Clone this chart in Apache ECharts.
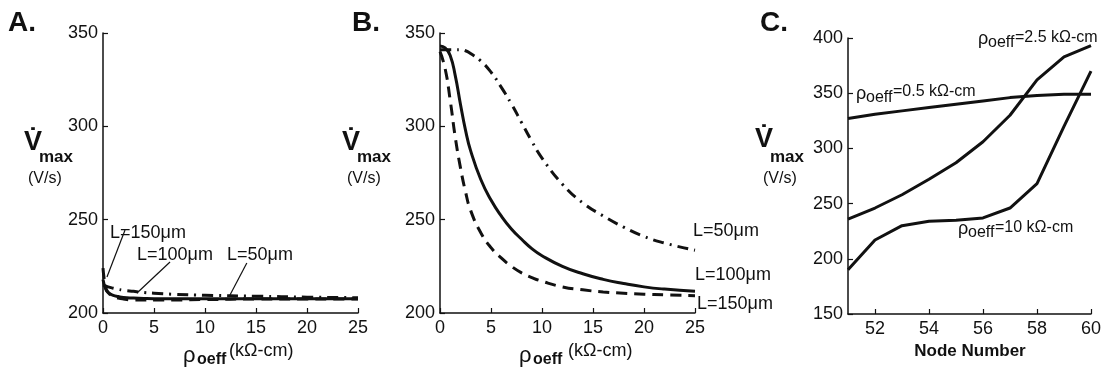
<!DOCTYPE html>
<html>
<head>
<meta charset="utf-8">
<script src="https://cdn.jsdelivr.net/npm/echarts@6/dist/echarts.min.js"></script>
<style>
html,body{margin:0;padding:0;background:#fff;}
#c{width:1105px;height:372px;}
</style>
</head>
<body>
<div id="c"></div>
<script>
// ---------- data ----------
const rhoA = [0, 0.25, 0.5, 1, 1.5, 2, 3, 4, 5, 7, 10, 15, 20, 25];
const vA_L50  = [215, 214.5, 214, 213.3, 212.7, 212.2, 211.6, 211, 210.6, 210, 209.5, 209, 208.5, 208.2];
const vA_L100 = [218, 213, 211, 209.5, 208.8, 208.3, 208, 207.8, 207.7, 207.7, 207.7, 207.7, 207.7, 207.7];
const vA_L150 = [224, 214, 211, 209, 208, 207.5, 207, 207, 207, 207, 207.2, 207.5, 207.5, 207.5];

const rhoB = [0, 0.5, 1, 1.5, 2, 2.5, 3, 4, 5, 6, 7, 8, 9, 10, 12, 14, 16, 18, 20, 22, 25];
const vB_L50  = [341, 341, 341, 341, 341, 340.5, 339, 335, 329, 321, 312, 302, 292, 283, 269, 259, 252, 246, 241, 237.5, 233.6];
const vB_L100 = [343, 342, 338, 327, 312, 298, 287, 271.5, 260.5, 252, 245, 239.5, 234.5, 230.7, 225, 221, 218, 215.8, 214, 212.8, 211.6];
const vB_L150 = [340, 331, 314, 294, 278, 265, 255, 243, 235, 229.5, 225, 221.5, 219, 217, 214, 212.4, 211.3, 210.6, 210.1, 209.7, 209.3];

const nodes = [51, 52, 53, 54, 55, 56, 57, 58, 59, 60];
const vC_05 = [327, 331, 334, 337, 340, 343, 346, 348, 349, 349];
const vC_25 = [236, 246, 258, 272, 287, 306, 330, 362, 383, 393];
const vC_10 = [190, 217, 230, 234, 235, 237, 246, 268, 320, 370];

const xTicksC = [52, 54, 56, 58, 60];

// annotation pointer segments in panel A (data coordinates)
const pointersA = [
  [[2.16, 244.5], [0.39, 219.3]],
  [[6.57, 227.3], [3.33, 210.7]],
  [[14.1, 226.8], [12.45, 209.6]]
];

// ---------- helpers ----------
const INK = '#111';
const FONT = '"Liberation Sans", Arial, sans-serif';
const pairs = (xs, ys) => xs.map((x, i) => [x, ys[i]]);
const TICKFS = 18;

function axisCommon(extra) {
  return Object.assign({
    type: 'value',
    axisLine: { show: true, onZero: false, lineStyle: { color: INK, width: 1.5 } },
    axisTick: { show: true, inside: true, length: 5, lineStyle: { color: INK, width: 1.2 } },
    axisLabel: { color: INK, fontSize: TICKFS, fontFamily: FONT },
    splitLine: { show: false }
  }, extra);
}

function line(name, xi, yi, data, type, smooth) {
  return {
    name, type: 'line', xAxisIndex: xi, yAxisIndex: yi,
    data, showSymbol: false, symbol: 'none',
    smooth: smooth ? 0.5 : false,
    lineStyle: { color: INK, width: 3, type: type, cap: 'butt' },
    silent: true
  };
}

function t(x, y, text, font, align) {
  return {
    type: 'text', x, y, silent: true,
    style: { text, font, fill: INK, align: align || 'left', verticalAlign: 'middle' }
  };
}

const DASHDOT = [11, 6, 2, 6];
const DASH = [11, 7];

const graphics = [
  t(8, 23, 'A.', 'bold 28px ' + FONT),
  t(352, 23, 'B.', 'bold 28px ' + FONT),
  t(760, 23, 'C.', 'bold 28px ' + FONT),

  // y titles
  t(24, 143, 'V\u0307', 'bold 27px ' + FONT),
  t(39, 157, 'max', 'bold 17px ' + FONT),
  t(28, 179, '(V/s)', '16px ' + FONT),

  t(342, 143, 'V\u0307', 'bold 27px ' + FONT),
  t(357, 157, 'max', 'bold 17px ' + FONT),
  t(347, 179, '(V/s)', '16px ' + FONT),

  t(755, 140, 'V\u0307', 'bold 27px ' + FONT),
  t(770, 157, 'max', 'bold 17px ' + FONT),
  t(763, 179, '(V/s)', '16px ' + FONT),

  // x titles
  t(183, 356, 'ρ', '22px ' + FONT),
  t(197, 359.5, 'oeff', 'bold 16px ' + FONT),
  t(229, 351.5, '(kΩ-cm)', '18px ' + FONT),

  t(519, 356, 'ρ', '22px ' + FONT),
  t(533, 359.5, 'oeff', 'bold 16px ' + FONT),
  t(568, 351.5, '(kΩ-cm)', '18px ' + FONT),

  t(970, 351.5, 'Node Number', 'bold 17px ' + FONT, 'center'),

  // panel A labels
  t(110, 233.5, 'L=150μm', '18px ' + FONT),
  t(137, 255, 'L=100μm', '18px ' + FONT),
  t(227, 255, 'L=50μm', '18px ' + FONT),

  // panel B labels
  t(693, 231, 'L=50μm', '18px ' + FONT),
  t(695, 275, 'L=100μm', '18px ' + FONT),
  t(697, 304.5, 'L=150μm', '18px ' + FONT),

  // panel C labels
  t(978, 39, 'ρ', '18px ' + FONT),
  t(988, 43, 'oeff', '16px ' + FONT),
  t(1015, 38, '=2.5 kΩ-cm', '16px ' + FONT),

  t(856, 94, 'ρ', '18px ' + FONT),
  t(866, 98, 'oeff', '16px ' + FONT),
  t(893, 92, '=0.5 kΩ-cm', '16px ' + FONT),

  t(958, 229, 'ρ', '18px ' + FONT),
  t(968, 233, 'oeff', '16px ' + FONT),
  t(995, 228, '=10 kΩ-cm', '16px ' + FONT)
];

const chart = echarts.init(document.getElementById('c'), null, { renderer: 'canvas' });
const seriesA150 = line('A L=150', 0, 0, pairs(rhoA, vA_L150), DASH, true);
seriesA150.markLine = {
  silent: true, symbol: 'none', animation: false,
  label: { show: false },
  lineStyle: { color: INK, width: 1.2, type: 'solid' },
  data: pointersA.map(p => [{ coord: p[0] }, { coord: p[1] }])
};

const lab = (m) => ({ color: INK, fontSize: TICKFS, fontFamily: FONT, margin: m });

chart.setOption({
  animation: false,
  backgroundColor: '#fff',
  grid: [
    { left: 103, top: 33, width: 255, height: 280 },
    { left: 440, top: 33, width: 255, height: 280 },
    { left: 848, top: 38, width: 243, height: 276 }
  ],
  xAxis: [
    axisCommon({ gridIndex: 0, min: 0, max: 25, interval: 5, axisLabel: lab(6) }),
    axisCommon({ gridIndex: 1, min: 0, max: 25, interval: 5, axisLabel: lab(6) }),
    axisCommon({ gridIndex: 2, min: 51, max: 60,
      axisTick: { show: true, inside: true, length: 5, customValues: xTicksC, lineStyle: { color: INK, width: 1.2 } },
      axisLabel: Object.assign(lab(6), { customValues: xTicksC }) })
  ],
  yAxis: [
    axisCommon({ gridIndex: 0, min: 200, max: 350, interval: 50, axisLabel: lab(5) }),
    axisCommon({ gridIndex: 1, min: 200, max: 350, interval: 50, axisLabel: lab(5) }),
    axisCommon({ gridIndex: 2, min: 150, max: 400, interval: 50, axisLabel: lab(5) })
  ],
  series: [
    line('A L=50', 0, 0, pairs(rhoA, vA_L50), DASHDOT, true),
    line('A L=100', 0, 0, pairs(rhoA, vA_L100), 'solid', true),
    seriesA150,
    line('B L=50', 1, 1, pairs(rhoB, vB_L50), DASHDOT, true),
    line('B L=100', 1, 1, pairs(rhoB, vB_L100), 'solid', true),
    line('B L=150', 1, 1, pairs(rhoB, vB_L150), DASH, true),
    line('C 0.5', 2, 2, pairs(nodes, vC_05), 'solid', false),
    line('C 2.5', 2, 2, pairs(nodes, vC_25), 'solid', false),
    line('C 10', 2, 2, pairs(nodes, vC_10), 'solid', false)
  ],
  graphic: graphics
});
</script>
</body>
</html>
